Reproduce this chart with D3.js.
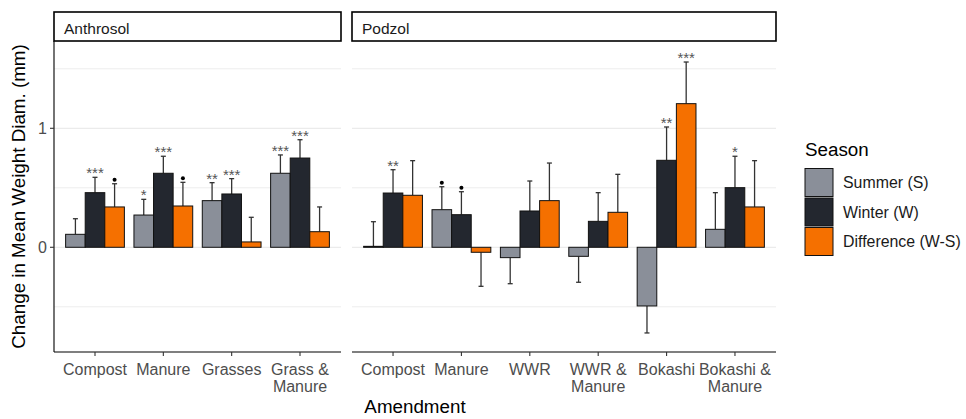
<!DOCTYPE html>
<html>
<head>
<meta charset="utf-8">
<script src="https://cdn.jsdelivr.net/npm/d3@7"></script>
<style>
  body { margin: 0; background: #fff; }
  svg text { font-family: "Liberation Sans", Arial, sans-serif; }
</style>
</head>
<body>
<svg id="chart" width="966" height="419"></svg>
<script>
// season keys and colours
var seasons = ["Summer (S)", "Winter (W)", "Difference (W-S)"];
var seasonColors = ["#8a8f99", "#23272f", "#f57000"];

// Anthrosol panel
var anthrosolCats = ["Compost", "Manure", "Grasses", "Grass &\nManure"];
var anthrosolSummer = [0.109, 0.271, 0.392, 0.622];
var anthrosolWinter = [0.459, 0.622, 0.448, 0.750];
var anthrosolDiff = [0.339, 0.347, 0.045, 0.131];
var anthrosolSummerSE = [0.131, 0.132, 0.151, 0.154];
var anthrosolWinterSE = [0.129, 0.143, 0.129, 0.154];
var anthrosolDiffSE = [0.195, 0.199, 0.207, 0.208];
var anthrosolSummerSig = ["", "*", "**", "***"];
var anthrosolWinterSig = ["***", "***", "***", "***"];
var anthrosolDiffSig = ["•", "•", "", ""];

// Podzol panel
var podzolCats = ["Compost", "Manure", "WWR", "WWR &\nManure", "Bokashi", "Bokashi &\nManure"];
var podzolSummer = [0.008, 0.316, -0.087, -0.076, -0.493, 0.151];
var podzolWinter = [0.456, 0.274, 0.305, 0.218, 0.731, 0.501];
var podzolDiff = [0.437, -0.042, 0.392, 0.294, 1.207, 0.339];
var podzolSummerSE = [0.207, 0.193, 0.219, 0.218, 0.227, 0.308];
var podzolWinterSE = [0.196, 0.193, 0.252, 0.241, 0.280, 0.264];
var podzolDiffSE = [0.291, 0.286, 0.316, 0.319, 0.350, 0.389];
var podzolSummerSig = ["", "•", "", "", "", ""];
var podzolWinterSig = ["**", "•", "", "", "**", "*"];
var podzolDiffSig = ["", "", "", "", "***", ""];

var yTicks = [0, 1];
var yGrid = [-0.5, 0, 0.5, 1, 1.5];

var config = {
    top: 41,
    bottom: 352,
    stripTop: 12,
    panels: [
        { name: "Anthrosol", x0: 54, x1: 341, cats: anthrosolCats,
          vals: [anthrosolSummer, anthrosolWinter, anthrosolDiff],
          se: [anthrosolSummerSE, anthrosolWinterSE, anthrosolDiffSE],
          sig: [anthrosolSummerSig, anthrosolWinterSig, anthrosolDiffSig] },
        { name: "Podzol", x0: 352, x1: 776, cats: podzolCats,
          vals: [podzolSummer, podzolWinter, podzolDiff],
          se: [podzolSummerSE, podzolWinterSE, podzolDiffSE],
          sig: [podzolSummerSig, podzolWinterSig, podzolDiffSig] }
    ]
};

var svg = d3.select("#chart");

var y = d3.scaleLinear()
    .domain([-0.88, 1.7336])
    .range([config.bottom, config.top]);

config.panels.forEach((p, pi) => {
    var g = svg.append("g");
    var x = d3.scalePoint().domain(p.cats).range([p.x0, p.x1]).padding(0.6);
    var step = x.step();
    var barW = step * 0.86 / 3;

    // grid
    g.selectAll("line.grid").data(yGrid).enter().append("line")
        .attr("x1", p.x0).attr("x2", p.x1)
        .attr("y1", d => y(d)).attr("y2", d => y(d))
        .attr("stroke", d => yTicks.includes(d) ? "#e6e6e6" : "#ededed")
        .attr("stroke-width", 1);

    // bars, error bars, labels
    p.vals.forEach((series, si) => {
        series.forEach((v, i) => {
            var cx = x(p.cats[i]) + (si - 1) * barW;
            var se = p.se[si][i];
            var end = v >= 0 ? v + se : v - se;
            g.append("line")
                .attr("x1", cx).attr("x2", cx)
                .attr("y1", y(v)).attr("y2", y(end))
                .attr("stroke", "#333").attr("stroke-width", 1.3);
            g.append("line")
                .attr("x1", cx - 2.5).attr("x2", cx + 2.5)
                .attr("y1", y(end)).attr("y2", y(end))
                .attr("stroke", "#333").attr("stroke-width", 1.3);
            g.append("rect")
                .attr("x", cx - barW / 2)
                .attr("width", barW)
                .attr("y", y(Math.max(0, v)))
                .attr("height", Math.max(Math.abs(y(v) - y(0)), 1))
                .attr("fill", seasonColors[si])
                .attr("stroke", "#111")
                .attr("stroke-width", 1);

            var s = p.sig[si][i];
            if (s === "•") {
                g.append("circle")
                    .attr("cx", cx).attr("cy", y(end) - 4)
                    .attr("r", 2).attr("fill", "#000");
            } else if (s) {
                g.append("text")
                    .attr("x", cx).attr("y", y(end) + 1)
                    .attr("text-anchor", "middle")
                    .attr("font-size", 15)
                    .attr("fill", "#555")
                    .text(s);
            }
        });
    });

    // strip
    g.append("rect")
        .attr("x", p.x0).attr("y", config.stripTop)
        .attr("width", p.x1 - p.x0).attr("height", config.top - config.stripTop)
        .attr("fill", "#fff").attr("stroke", "#000").attr("stroke-width", 1.6);
    g.append("text")
        .attr("x", p.x0 + 10).attr("y", 34)
        .attr("font-size", 15.5).attr("fill", "#1a1a1a")
        .text(p.name);

    // x axis
    g.append("line")
        .attr("x1", p.x0).attr("x2", p.x1)
        .attr("y1", config.bottom).attr("y2", config.bottom)
        .attr("stroke", "#000").attr("stroke-width", 1.1);
    p.cats.forEach(c => {
        g.append("line")
            .attr("x1", x(c)).attr("x2", x(c))
            .attr("y1", config.bottom).attr("y2", config.bottom + 4)
            .attr("stroke", "#333").attr("stroke-width", 1.1);
        var t = g.append("text")
            .attr("x", x(c)).attr("y", 375)
            .attr("text-anchor", "middle")
            .attr("font-size", 16).attr("fill", "#4d4d4d");
        c.split("\n").forEach((ln, li) => {
            t.append("tspan").attr("x", x(c)).attr("dy", li ? 17 : 0).text(ln);
        });
    });

    // y axis on first panel only
    if (pi === 0) {
        g.append("line")
            .attr("x1", p.x0).attr("x2", p.x0)
            .attr("y1", config.top).attr("y2", config.bottom)
            .attr("stroke", "#000").attr("stroke-width", 1.1);
        yTicks.forEach(t => {
            g.append("line")
                .attr("x1", p.x0 - 4).attr("x2", p.x0)
                .attr("y1", y(t)).attr("y2", y(t))
                .attr("stroke", "#333").attr("stroke-width", 1.1);
            g.append("text")
                .attr("x", p.x0 - 7).attr("y", y(t))
                .attr("dy", "0.36em")
                .attr("text-anchor", "end")
                .attr("font-size", 16).attr("fill", "#4d4d4d")
                .text(t);
        });
    }
});

// axis titles
svg.append("text")
    .attr("transform", "translate(25," + ((config.top + config.bottom) / 2) + ") rotate(-90)")
    .attr("text-anchor", "middle")
    .attr("font-size", 18.8).attr("fill", "#000")
    .text("Change in Mean Weight Diam. (mm)");
svg.append("text")
    .attr("x", (54 + 776) / 2).attr("y", 413)
    .attr("text-anchor", "middle")
    .attr("font-size", 18.8).attr("fill", "#000")
    .text("Amendment");

// legend
var legend = svg.append("g").attr("transform", "translate(805,0)");
legend.append("text")
    .attr("x", 0).attr("y", 156)
    .attr("font-size", 18.8).attr("fill", "#000")
    .text("Season");
seasons.forEach((s, i) => {
    var ky = 168.5 + i * 29.5;
    legend.append("rect")
        .attr("x", 0).attr("y", ky).attr("width", 28).attr("height", 28)
        .attr("fill", seasonColors[i]).attr("stroke", "#111").attr("stroke-width", 1);
    legend.append("text")
        .attr("x", 38).attr("y", ky + 14).attr("dy", "0.36em")
        .attr("font-size", 15.9).attr("fill", "#1a1a1a")
        .text(s);
});
</script>
</body>
</html>
